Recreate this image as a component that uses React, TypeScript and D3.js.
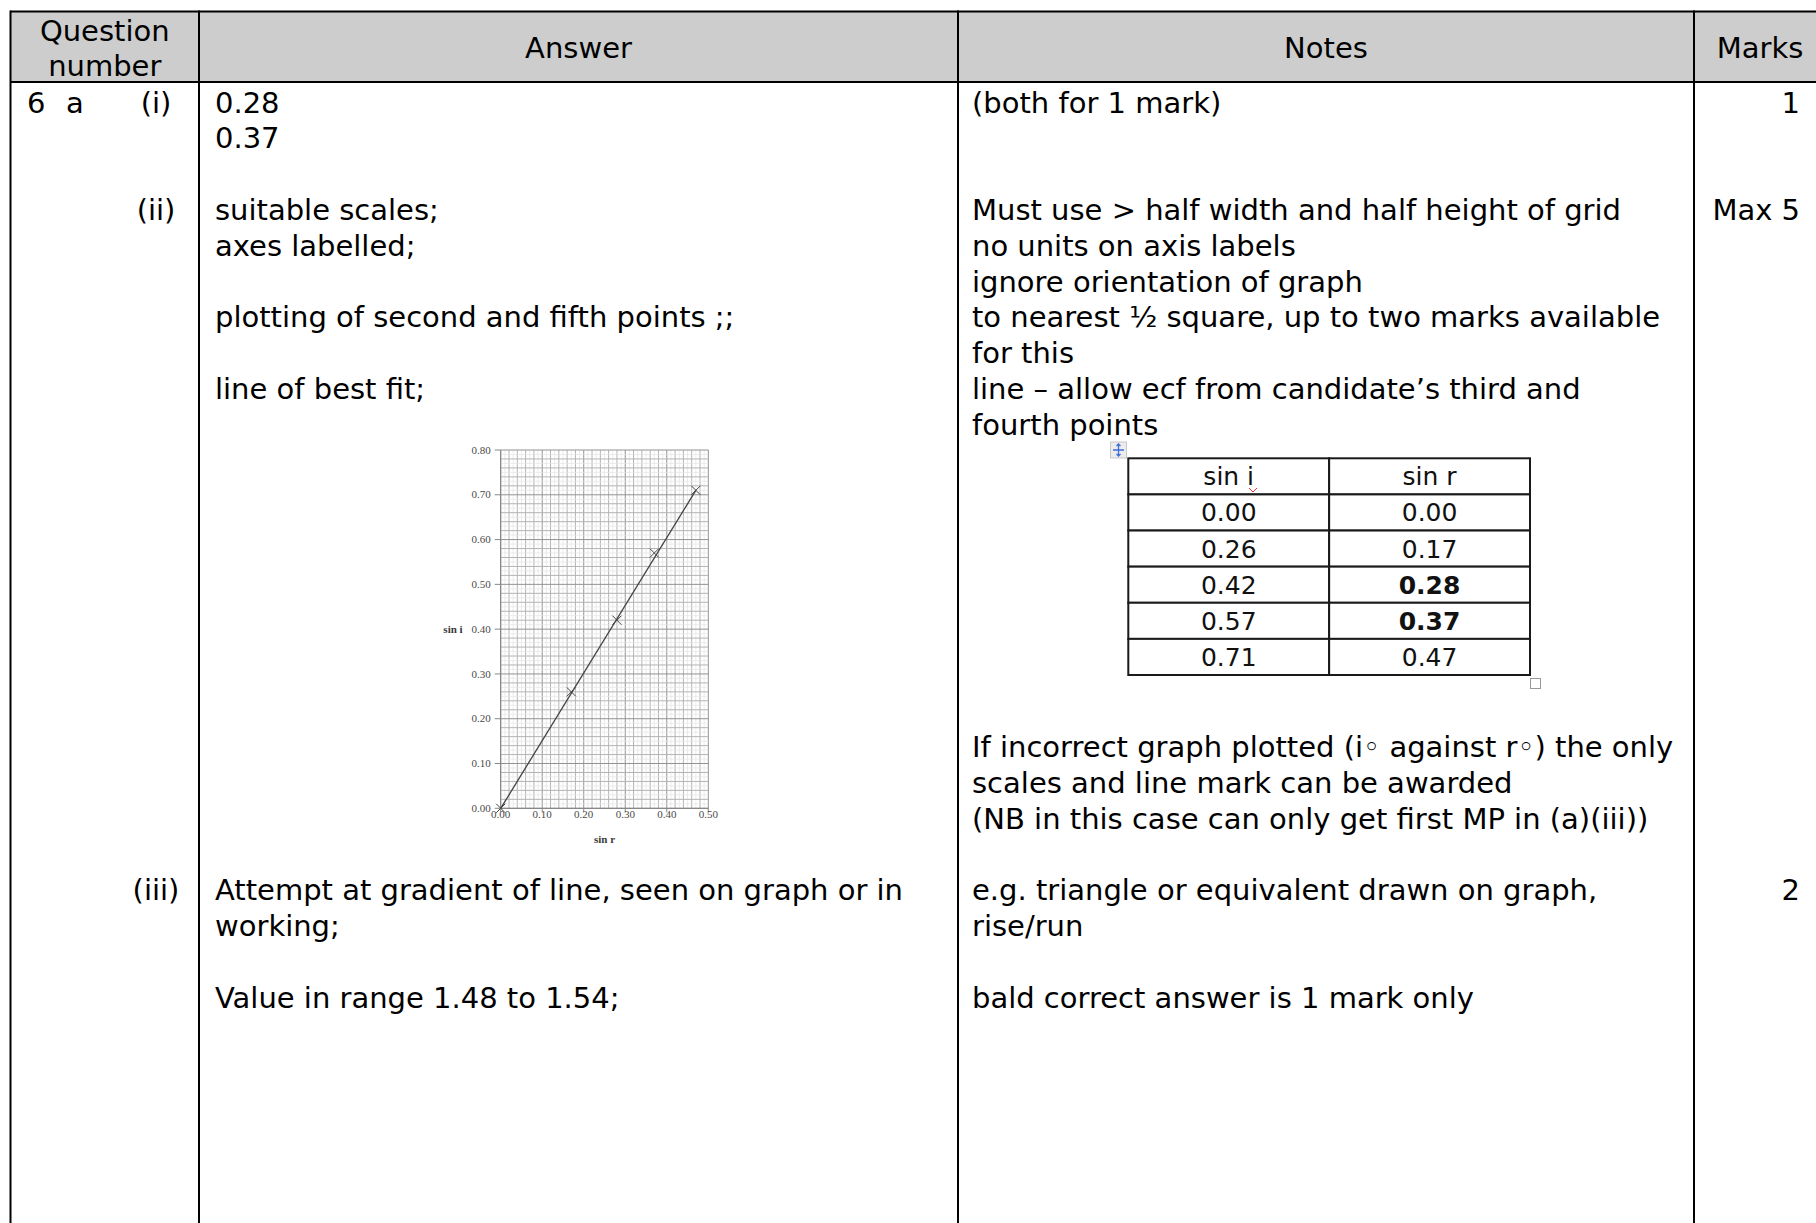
import React from 'react';
import * as d3 from 'd3';

// refraction data
const sinR = [0.0, 0.17, 0.28, 0.37, 0.47];
const sinI = [0.0, 0.26, 0.42, 0.57, 0.71];
const boldR = [false, false, true, true, false];
const fitR = [0, 0.47];
const fitI = [0, 0.71];
const xTicks = [0, 0.1, 0.2, 0.3, 0.4, 0.5];
const yTicks = [0, 0.1, 0.2, 0.3, 0.4, 0.5, 0.6, 0.7, 0.8];

const headers = ['Answer', 'Notes', 'Marks'];

// one entry per text line of the body (blank = empty line)
const questionLines = ['(i)', '', '', '(ii)', '', '', '', '', '', '', '', '', '', '', '', '', '', '', '', '', '', '', '(iii)'];
const answerLines = [
  '0.28',
  '0.37',
  '',
  'suitable scales;',
  'axes labelled;',
  '',
  'plotting of second and fifth points ;;',
  '',
  'line of best fit;',
  '', '', '', '', '', '', '', '', '', '', '', '', '',
  'Attempt at gradient of line, seen on graph or in',
  'working;',
  '',
  'Value in range 1.48 to 1.54;',
];
const notesLines = [
  '(both for 1 mark)',
  '',
  '',
  'Must use > half width and half height of grid',
  'no units on axis labels',
  'ignore orientation of graph',
  'to nearest \u00BD square, up to two marks available',
  'for this',
  'line \u2013 allow ecf from candidate\u2019s third and',
  'fourth points',
  '', '', '', '', '', '', '', '',
  'If incorrect graph plotted (i\u25E6 against r\u25E6) the only',
  'scales and line mark can be awarded',
  '(NB in this case can only get first MP in (a)(iii))',
  '',
  'e.g. triangle or equivalent drawn on graph,',
  'rise/run',
  '',
  'bald correct answer is 1 mark only',
];
const marksLines = ['1', '', '', 'Max 5', '', '', '', '', '', '', '', '', '', '', '', '', '', '', '', '', '', '', '2'];

const W = 1816;
const H = 1223;
const font = "'DejaVu Sans', Verdana, sans-serif";
const serif = "'Liberation Serif', 'Times New Roman', serif";
const fs = 29;
const lineStep = 35.8;
const firstBase = 112.5;
const left = 10.5;
const top = 11.5;
const headBottom = 82;
const cols = [199, 958, 1694, 1826];
const lineY = (i: number) => firstBase + i * lineStep;

const fmt = d3.format('.2f');

const Graph = () => {
  const x = d3.scaleLinear().domain([0, 0.5]).range([500.7, 708.3]);
  const y = d3.scaleLinear().domain([0, 0.8]).range([808.3, 450]);
  const vx = d3.range(0, 51).map((i) => i / 100);
  const vy = d3.range(0, 81).map((i) => i / 100);
  const lineGen = d3.line<number>().x((d) => x(d)).y((d, i) => y(fitI[i]));
  const stroke = (i: number) => (i % 10 === 0 ? '#939393' : i % 2 === 0 ? '#b4b4b4' : '#e4e4e4');
  const cross = (cx: number, cy: number, s: number) =>
    `M${cx - s},${cy - s}L${cx + s},${cy + s}M${cx - s},${cy + s}L${cx + s},${cy - s}`;
  return (
    <g>
      {vx.map((v, i) => (
        <line key={'gx' + i} x1={x(v)} x2={x(v)} y1={y(0)} y2={y(0.8)} stroke={stroke(i)} strokeWidth={i % 2 === 0 ? 1 : 0.7} />
      ))}
      {vy.map((v, i) => (
        <line key={'gy' + i} x1={x(0)} x2={x(0.5)} y1={y(v)} y2={y(v)} stroke={stroke(i)} strokeWidth={i % 2 === 0 ? 1 : 0.7} />
      ))}
      <line x1={x(0)} x2={x(0)} y1={y(0)} y2={y(0.8)} stroke="#808080" strokeWidth={1} />
      <line x1={x(0)} x2={x(0.5)} y1={y(0)} y2={y(0)} stroke="#808080" strokeWidth={1} />
      {yTicks.map((t) => (
        <g key={'yt' + t}>
          <line x1={x(0) - 6} x2={x(0)} y1={y(t)} y2={y(t)} stroke="#888" strokeWidth={1} />
          <text x={x(0) - 10} y={y(t) + 3.7} textAnchor="end" fontFamily={serif} fontSize={11} fill="#4a4a4a">
            {fmt(t)}
          </text>
        </g>
      ))}
      {xTicks.map((t) => (
        <g key={'xt' + t}>
          <line x1={x(t)} x2={x(t)} y1={y(0)} y2={y(0) + 4} stroke="#888" strokeWidth={1} />
          <text x={x(t)} y={y(0) + 10} textAnchor="middle" fontFamily={serif} fontSize={11} fill="#4a4a4a">
            {fmt(t)}
          </text>
        </g>
      ))}
      <text x={x(0.25)} y={y(0) + 35} textAnchor="middle" fontFamily={serif} fontSize={11} fontWeight="bold" fill="#3a3a3a">
        sin r
      </text>
      <text x={453} y={y(0.4) + 3.7} textAnchor="middle" fontFamily={serif} fontSize={11} fontWeight="bold" fill="#3a3a3a">
        sin i
      </text>
      <path d={lineGen(fitR) || ''} fill="none" stroke="#444" strokeWidth={1.3} />
      {sinR.map((r, i) => (
        <path key={'pt' + i} d={cross(x(r), y(sinI[i]), 4.5)} stroke="#444" strokeWidth={1} />
      ))}
    </g>
  );
};

const DataTable = () => {
  const colX = d3.scaleBand<number>().domain([0, 1]).range([1128.3, 1530]);
  const rowY = d3.scaleBand<number>().domain(d3.range(sinI.length + 1)).range([458.3, 675]);
  const rows = [['sin i', 'sin r'], ...sinI.map((v, i) => [fmt(v), fmt(sinR[i])])];
  return (
    <g>
      {rows.map((row, ri) => (
        <g key={'r' + ri}>
          {row.map((cell, ci) => (
            <g key={'c' + ci}>
              <rect x={colX(ci)} y={rowY(ri)} width={colX.bandwidth()} height={rowY.bandwidth()} fill="white" stroke="#1a1a1a" strokeWidth={2} />
              <text
                x={(colX(ci) || 0) + colX.bandwidth() / 2}
                y={(rowY(ri) || 0) + rowY.bandwidth() / 2 + 9}
                textAnchor="middle"
                fontFamily={font}
                fontSize={25}
                fontWeight={ci === 1 && ri > 0 && boldR[ri - 1] ? 'bold' : 'normal'}
                fill="#111"
              >
                {cell}
              </text>
            </g>
          ))}
        </g>
      ))}
      <path d="M1249,488 L1253,492 L1257,488" fill="none" stroke="#e03030" strokeWidth={1} />
      <rect x={1110.5} y={442} width={16} height={16} fill="#ececec" stroke="#c8c8c8" strokeWidth={1} />
      <path d="M1118.5,444 V456 M1113,450 H1124 M1116.5,446 L1118.5,444 L1120.5,446 M1116.5,454 L1118.5,456 L1120.5,454" fill="none" stroke="#3a6fd8" strokeWidth={1.3} />
      <rect x={1530.5} y={678.5} width={10} height={10} fill="white" stroke="#999" strokeWidth={1} />
    </g>
  );
};

const App = () => {
  return (
    <svg width={W} height={H} style={{ position: 'absolute', left: 0, top: 0, background: 'white' }}>
      <rect x={0} y={0} width={W} height={H} fill="white" />
      <rect x={left} y={top} width={cols[3] - left} height={headBottom - top} fill="#cdcdcd" />
      <text fontFamily={font} fontSize={fs} fill="#000" textAnchor="middle">
        <tspan x={(left + cols[0]) / 2} y={40.5}>Question</tspan>
        <tspan x={(left + cols[0]) / 2} y={76}>number</tspan>
      </text>
      {headers.map((h, i) => (
        <text key={h} x={(cols[i] + cols[i + 1]) / 2} y={58} textAnchor="middle" fontFamily={font} fontSize={fs} fill="#000">
          {h}
        </text>
      ))}
      <line x1={left} x2={W} y1={top} y2={top} stroke="#000" strokeWidth={2} />
      <line x1={left} x2={W} y1={headBottom} y2={headBottom} stroke="#000" strokeWidth={2} />
      <line x1={left} x2={left} y1={top - 1} y2={H} stroke="#000" strokeWidth={2} />
      {cols.slice(0, 3).map((c) => (
        <line key={'v' + c} x1={c} x2={c} y1={top - 1} y2={H} stroke="#000" strokeWidth={2} />
      ))}

      <g fontFamily={font} fontSize={fs} fill="#000">
        <text x={27} y={lineY(0)}>6</text>
        <text x={66} y={lineY(0)}>a</text>
        {questionLines.map((t, i) => (t ? <text key={'q' + i} x={156} y={lineY(i)} textAnchor="middle">{t}</text> : null))}
        {answerLines.map((t, i) => (t ? <text key={'a' + i} x={215} y={lineY(i)}>{t}</text> : null))}
        {notesLines.map((t, i) => (t ? <text key={'n' + i} x={972} y={lineY(i)}>{t}</text> : null))}
        {marksLines.map((t, i) => (t ? <text key={'m' + i} x={1800} y={lineY(i)} textAnchor="end">{t}</text> : null))}
      </g>

      <Graph />
      <DataTable />
    </svg>
  );
};

export default App;
